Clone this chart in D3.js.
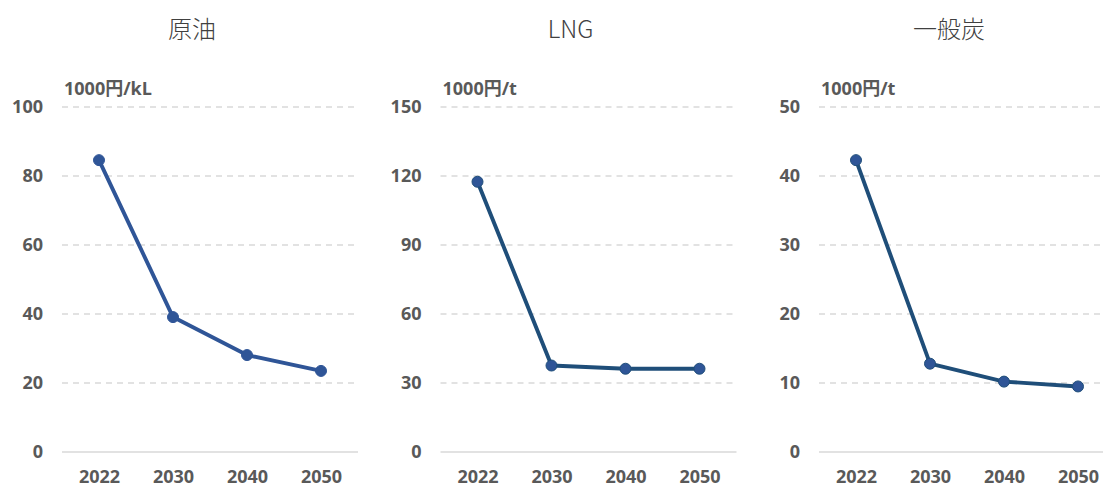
<!DOCTYPE html>
<html>
<head>
<meta charset="utf-8">
<script src="https://cdn.jsdelivr.net/npm/d3@7"></script>
<style>
  body { margin: 0; background: #fff; }
  svg { display: block; }
</style>
</head>
<body>
<svg id="chart" width="1103" height="488"></svg>
<script>
// Fuel price projections: crude oil, LNG and steam coal
const years = ["2022", "2030", "2040", "2050"];

const titles = ["原油", "LNG", "一般炭"];
const units = ["1000円/kL", "1000円/t", "1000円/t"];

const crudeValues = [84.6, 39.1, 28.1, 23.5];
const lngValues = [117.5, 37.6, 36.2, 36.2];
const coalValues = [42.3, 12.8, 10.2, 9.5];

const crudeTicks = [0, 20, 40, 60, 80, 100];
const lngTicks = [0, 30, 60, 90, 120, 150];
const coalTicks = [0, 10, 20, 30, 40, 50];

const panels = [
  { title: titles[0], unit: units[0], values: crudeValues, ticks: crudeTicks, line: "#2F5597", marker: "#2F5597" },
  { title: titles[1], unit: units[1], values: lngValues, ticks: lngTicks, line: "#1F4E79", marker: "#2F5597" },
  { title: titles[2], unit: units[2], values: coalValues, ticks: coalTicks, line: "#1F4E79", marker: "#2F5597" }
];

const svg = d3.select("#chart");
const panelWidth = 378.5;
const plotLeft = 62, plotWidth = 296;
const plotTop = 107, plotBottom = 452;
const fontLatin = "'Open Sans', 'Noto Sans CJK JP', sans-serif";

panels.forEach((p, i) => {
  const g = svg.append("g").attr("transform", `translate(${i * panelWidth},0)`);

  const x = d3.scalePoint().domain(years).range([plotLeft, plotLeft + plotWidth]).padding(0.5);
  const y = d3.scaleLinear().domain([0, d3.max(p.ticks)]).range([plotBottom, plotTop]);

  // title
  g.append("text")
    .attr("x", 192).attr("y", 38)
    .attr("text-anchor", "middle")
    .attr("font-family", "'Noto Sans CJK JP', 'Open Sans', sans-serif")
    .attr("font-weight", 300)
    .attr("font-size", 24)
    .attr("fill", "#404040")
    .text(p.title);

  // unit label
  g.append("text")
    .attr("x", 64).attr("y", 95)
    .attr("font-family", fontLatin)
    .attr("font-weight", 700)
    .attr("font-size", 18)
    .attr("fill", "#595959")
    .text(p.unit);

  // gridlines
  g.append("g").selectAll("line")
    .data(p.ticks)
    .join("line")
    .attr("x1", plotLeft).attr("x2", plotLeft + plotWidth)
    .attr("y1", d => y(d)).attr("y2", d => y(d))
    .attr("stroke", "#d9d9d9")
    .attr("stroke-width", 1.3)
    .attr("stroke-dasharray", d => d === 0 ? null : "6,5");

  // y axis labels
  const yAxis = d3.axisLeft(y).tickValues(p.ticks).tickSize(0).tickPadding(0);
  const ya = g.append("g").attr("transform", `translate(43,0)`).call(yAxis);
  ya.select(".domain").remove();
  ya.selectAll("text")
    .attr("font-family", fontLatin)
    .attr("font-weight", 700)
    .attr("font-size", 18)
    .attr("fill", "#595959");

  // x axis labels
  const xAxis = d3.axisBottom(x).tickSize(0).tickPadding(0);
  const xa = g.append("g").attr("transform", `translate(0,470)`).call(xAxis);
  xa.select(".domain").remove();
  xa.selectAll("text")
    .attr("font-family", fontLatin)
    .attr("font-weight", 700)
    .attr("font-size", 18)
    .attr("fill", "#595959");

  // line
  const line = d3.line().x((d, j) => x(years[j])).y(d => y(d));
  g.append("path")
    .datum(p.values)
    .attr("d", line)
    .attr("fill", "none")
    .attr("stroke", p.line)
    .attr("stroke-width", 3.9)
    .attr("stroke-linejoin", "round");

  g.append("g").selectAll("circle")
    .data(p.values)
    .join("circle")
    .attr("cx", (d, j) => x(years[j]))
    .attr("cy", d => y(d))
    .attr("r", 5.5)
    .attr("fill", p.marker)
    .attr("stroke", p.line)
    .attr("stroke-width", 1);
});
</script>
</body>
</html>
